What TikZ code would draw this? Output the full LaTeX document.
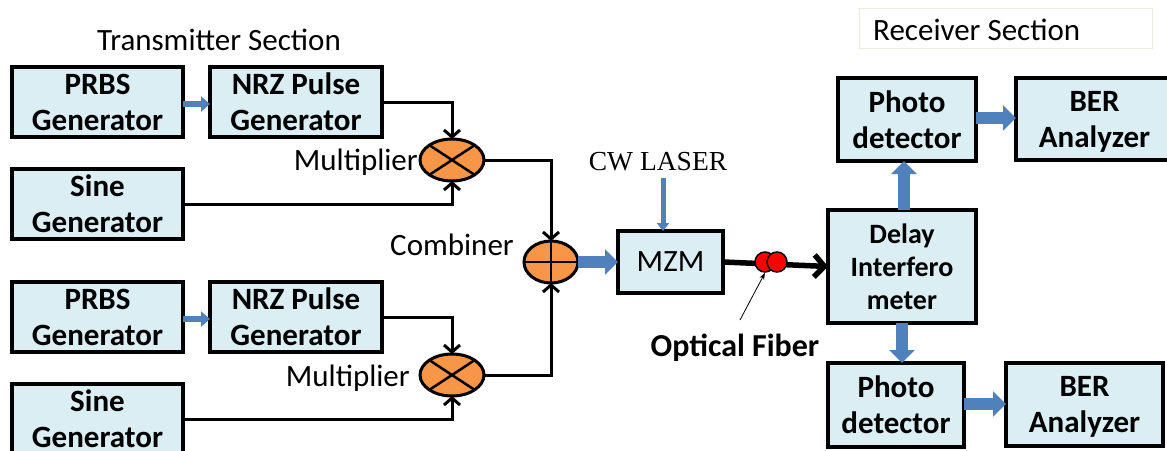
\documentclass[tikz,border=0pt]{standalone}
\usepackage{fontspec}
\setmainfont{Carlito}
\newfontfamily\serifcw{Liberation Serif}
\usetikzlibrary{arrows.meta,shapes.geometric}
\definecolor{boxfill}{HTML}{DAEEF3}
\definecolor{orangefill}{HTML}{F79646}
\definecolor{blockblue}{HTML}{4F81BD}
\definecolor{faintborder}{HTML}{EFE8DC}
\begin{document}
\begin{tikzpicture}[x=1pt,y=-1pt,
  blk/.style={draw=black,line width=3.5pt,fill=boxfill,align=center,inner sep=0pt,outer sep=0pt,
    font=\fontsize{31}{36}\selectfont\bfseries},
  opnode/.style={ellipse,draw=black,line width=3pt,fill=orangefill,minimum width=64pt,minimum height=42pt,inner sep=0pt,outer sep=0pt},
  conn/.style={line width=3pt,-{Straight Barb[length=7pt,width=16pt]}},
  barrow/.style={blockblue,line width=#1,-{Triangle[length=13pt,width=25pt]}},
  lbl/.style={font=\fontsize{31}{34}\selectfont,inner sep=0pt}
]
\useasboundingbox (0,0) rectangle (1167,450);
% Transmitter section
\node[lbl,anchor=base] (tx) at (219,50) {Transmitter Section};
\node[blk,minimum width=171pt,minimum height=70pt] (prbs1) at (97.5,102) {PRBS\\Generator};
\node[blk,minimum width=172pt,minimum height=70pt] (nrz1) at (296,102) {NRZ Pulse\\Generator};
\node[blk,minimum width=171pt,minimum height=70pt] (sine1) at (97.5,204) {Sine\\Generator};
\node[blk,minimum width=171pt,minimum height=70pt] (prbs2) at (97.5,317) {PRBS\\Generator};
\node[blk,minimum width=172pt,minimum height=70pt] (nrz2) at (296,317) {NRZ Pulse\\Generator};
\node[blk,minimum width=171pt,minimum height=70pt] (sine2) at (97.5,419) {Sine\\Generator};
% Multipliers and combiner
\node[opnode] (m1) at (452,160) {};
\draw[line width=2.5pt] (m1.north east) -- (m1.south west) (m1.north west) -- (m1.south east);
\node[opnode] (m2) at (452,375) {};
\draw[line width=2.5pt] (m2.north east) -- (m2.south west) (m2.north west) -- (m2.south east);
\node[opnode,minimum width=54pt] (comb) at (551,262) {};
\draw[line width=2.5pt] (comb.north) -- (comb.south) (comb.west) -- (comb.east);
\node[lbl,anchor=east] (ml1) at (418,162) {Multiplier};
\node[lbl,anchor=east] (ml2) at (410,378) {Multiplier};
\node[lbl,anchor=east] (cl) at (514,245) {Combiner};
% connectors
\draw[conn] (nrz1.east) -| (m1.north);
\draw[conn] (sine1.east) -| (m1.south);
\draw[conn] (nrz2.east) -| (m2.north);
\draw[conn] (sine2.east) -| (m2.south);
\draw[conn] (m1.east) -| (comb.north);
\draw[conn] (m2.east) -| (comb.south);
\draw[blockblue,line width=6pt,-{Triangle[length=9pt,width=15pt]}] (prbs1.east |- 0,104) -- (nrz1.west |- 0,104);
\draw[blockblue,line width=6pt,-{Triangle[length=9pt,width=15pt]}] (prbs2.east |- 0,319) -- (nrz2.west |- 0,319);
% MZM
\node[blk,font=\fontsize{31}{34}\selectfont,minimum width=105pt,minimum height=62pt] (mzm) at (670.5,262) {MZM};
\draw[barrow=12pt] (comb.east) -- (mzm.west);
\node[font=\serifcw\fontsize{27.5}{30}\selectfont,inner sep=0pt] (cw) at (658,162) {CW LASER};
\coordinate (cwend) at (663,178);
\draw[blockblue,line width=5pt,-{Triangle[length=8pt,width=12pt]}] (cwend) -- (cwend |- mzm.north);
% Receiver
\node[draw=faintborder,line width=1pt,minimum width=293pt,minimum height=40pt,inner sep=0pt] (rxbox) at (1005.5,28) {};
\node[lbl,anchor=west] (rx) at (873,30) {Receiver Section};
\node[blk,minimum width=138pt,minimum height=83pt] (pd1) at (907,119.5) {Photo\\detector};
\node[blk,minimum width=157pt,minimum height=82pt] (ber1) at (1094.5,119) {BER\\\smash{Analyzer}};
\node[blk,font=\fontsize{28}{33}\selectfont\bfseries,minimum width=148pt,minimum height=113pt] (di) at (902,266.5) {Delay\\Interfero\\meter};
\node[blk,minimum width=136pt,minimum height=84pt] (pd2) at (896,405) {Photo\\detector};
\node[blk,minimum width=157pt,minimum height=83pt] (ber2) at (1084.5,404.5) {BER\\\smash{Analyzer}};
\draw[barrow=12pt] (di.north) ++(2,0) coordinate (dn) -- (dn |- pd1.south);
\draw[barrow=12pt] (di.south) -- (pd2.north -| di.south);
\draw[barrow=12pt] (pd1.east |- 0,118) -- (ber1.west |- 0,118);
\draw[barrow=12pt] (pd2.east |- 0,404) -- (ber2.west |- 0,404);
% Fiber
\draw[line width=5.5pt,-{Straight Barb[length=10pt,width=22pt]}] (mzm.east) -- (di.west);
\node[circle,draw=black,line width=1.5pt,fill=red,minimum size=20pt,inner sep=0pt] (f1) at (765,262) {};
\node[circle,draw=black,line width=1.5pt,fill=red,minimum size=20pt,inner sep=0pt] (f2) at (777,262) {};
\node[font=\fontsize{32}{34}\selectfont\bfseries,inner sep=0pt] (of) at (735,348) {Optical Fiber};
\coordinate (ofs) at (740,320);
\draw[line width=0.8pt,-{Stealth[length=7pt,width=5pt]}] (ofs) -- (f1.south);
\end{tikzpicture}
\end{document}
